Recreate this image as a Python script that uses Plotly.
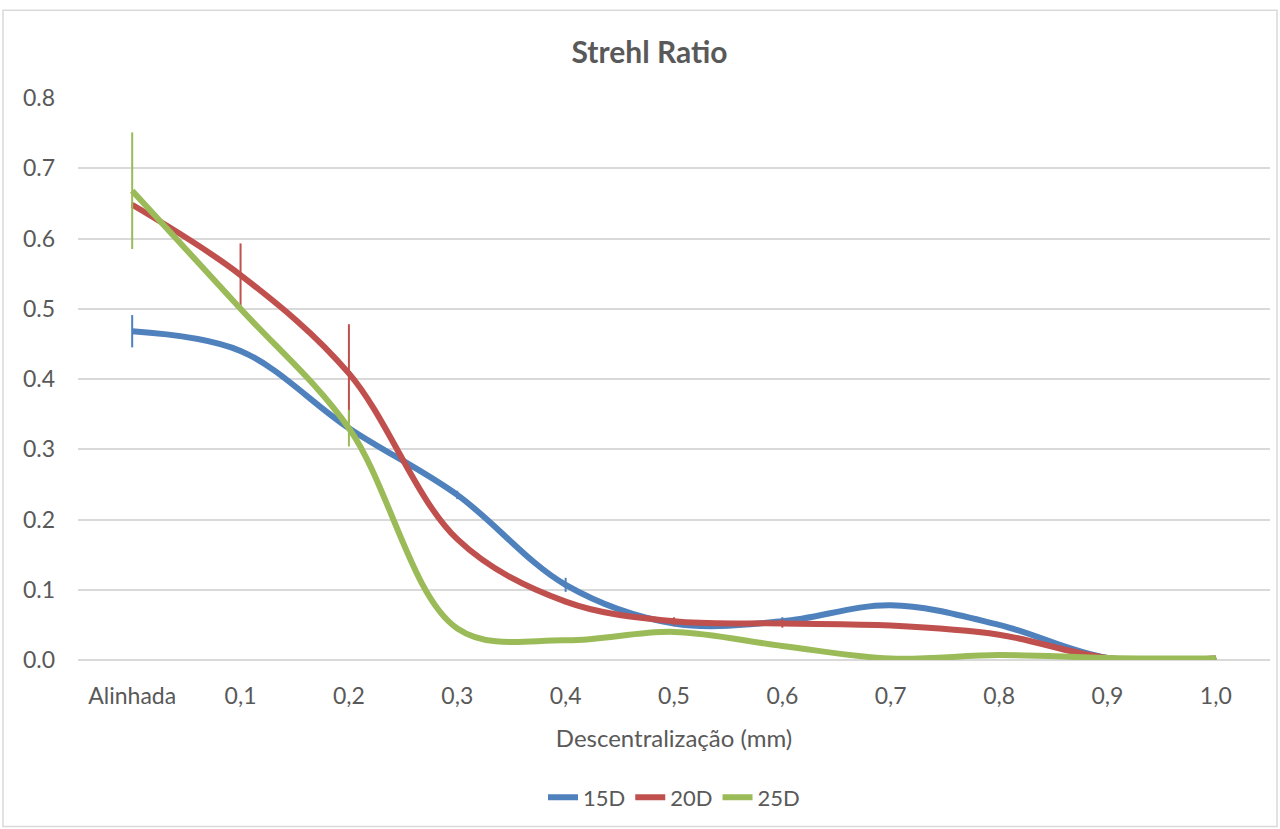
import plotly.graph_objects as go

# Decentration steps (mm) and Strehl ratio per lens power
categories = ["Alinhada", "0,1", "0,2", "0,3", "0,4", "0,5", "0,6", "0,7", "0,8", "0,9", "1,0"]

sr_15d = [0.468, 0.440, 0.330, 0.235, 0.107, 0.052, 0.055, 0.078, 0.050, 0.003, 0.002]
err_15d = [0.023, 0.004, 0.004, 0.006, 0.010, 0.004, 0.006, 0.003, 0.003, 0.001, 0.001]

sr_20d = [0.648, 0.548, 0.408, 0.172, 0.083, 0.055, 0.052, 0.049, 0.036, 0.003, 0.002]
err_20d = [0.004, 0.045, 0.070, 0.003, 0.003, 0.006, 0.006, 0.003, 0.003, 0.001, 0.001]

sr_25d = [0.668, 0.500, 0.330, 0.045, 0.028, 0.040, 0.020, 0.002, 0.007, 0.003, 0.002]
err_25d = [0.083, 0.004, 0.026, 0.003, 0.002, 0.002, 0.002, 0.001, 0.001, 0.001, 0.001]

series_names = ["15D", "20D", "25D"]
colors = ["#4F81BD", "#C0504D", "#9BBB59"]
font_family = "Lato, 'Open Sans', sans-serif"
text_color = "#595959"

fig = go.Figure()
for name, vals, errs, col in zip(series_names, [sr_15d, sr_20d, sr_25d],
                                 [err_15d, err_20d, err_25d], colors):
    fig.add_trace(go.Scatter(
        x=categories, y=vals, name=name, mode="lines",
        line=dict(color=col, width=6, shape="spline", smoothing=1.0),
        error_y=dict(type="data", array=errs, visible=True,
                     color=col, thickness=2, width=0),
    ))

fig.update_layout(
    width=1280, height=829,
    margin=dict(l=78, r=10, t=98, b=167),
    paper_bgcolor="white", plot_bgcolor="white",
    font=dict(family=font_family, color=text_color, size=22),
    title=dict(text="<b>Strehl Ratio</b>", x=(649.5) / 1280, xanchor="center",
               y=1 - 52 / 829, yanchor="middle",
               font=dict(size=30, color=text_color, family=font_family)),
    showlegend=True,
    legend=dict(orientation="h", x=0.5, xanchor="center",
                y=(662 - 800) / 564, yanchor="middle",
                font=dict(size=22, color=text_color),
                itemwidth=30, tracegroupgap=0),
    xaxis=dict(
        type="category", range=[-0.5, 10.5],
        showgrid=False, zeroline=False,
        showline=False, ticks="", ticklabelstandoff=20,
        tickfont=dict(size=23, color=text_color),
        title=dict(text="Descentralização (mm)", standoff=22,
                   font=dict(size=24, color=text_color)),
    ),
    yaxis=dict(
        range=[0, 0.8], dtick=0.1, tickformat=".1f",
        showgrid=True, gridcolor="#D9D9D9", gridwidth=1.5,
        zeroline=True, zerolinecolor="#D9D9D9", zerolinewidth=1.5,
        showline=False, ticks="", ticklabelstandoff=22,
        tickfont=dict(size=23, color=text_color),
    ),
    shapes=[dict(type="rect", xref="paper", yref="paper",
                 x0=(3 - 78) / 1192, x1=(1277 - 78) / 1192,
                 y0=(662 - 829) / 564, y1=(662 - 10) / 564,
                 line=dict(color="#D9D9D9", width=1.5),
                 fillcolor="rgba(0,0,0,0)", layer="below")],
)

fig.write_html("out.html")
